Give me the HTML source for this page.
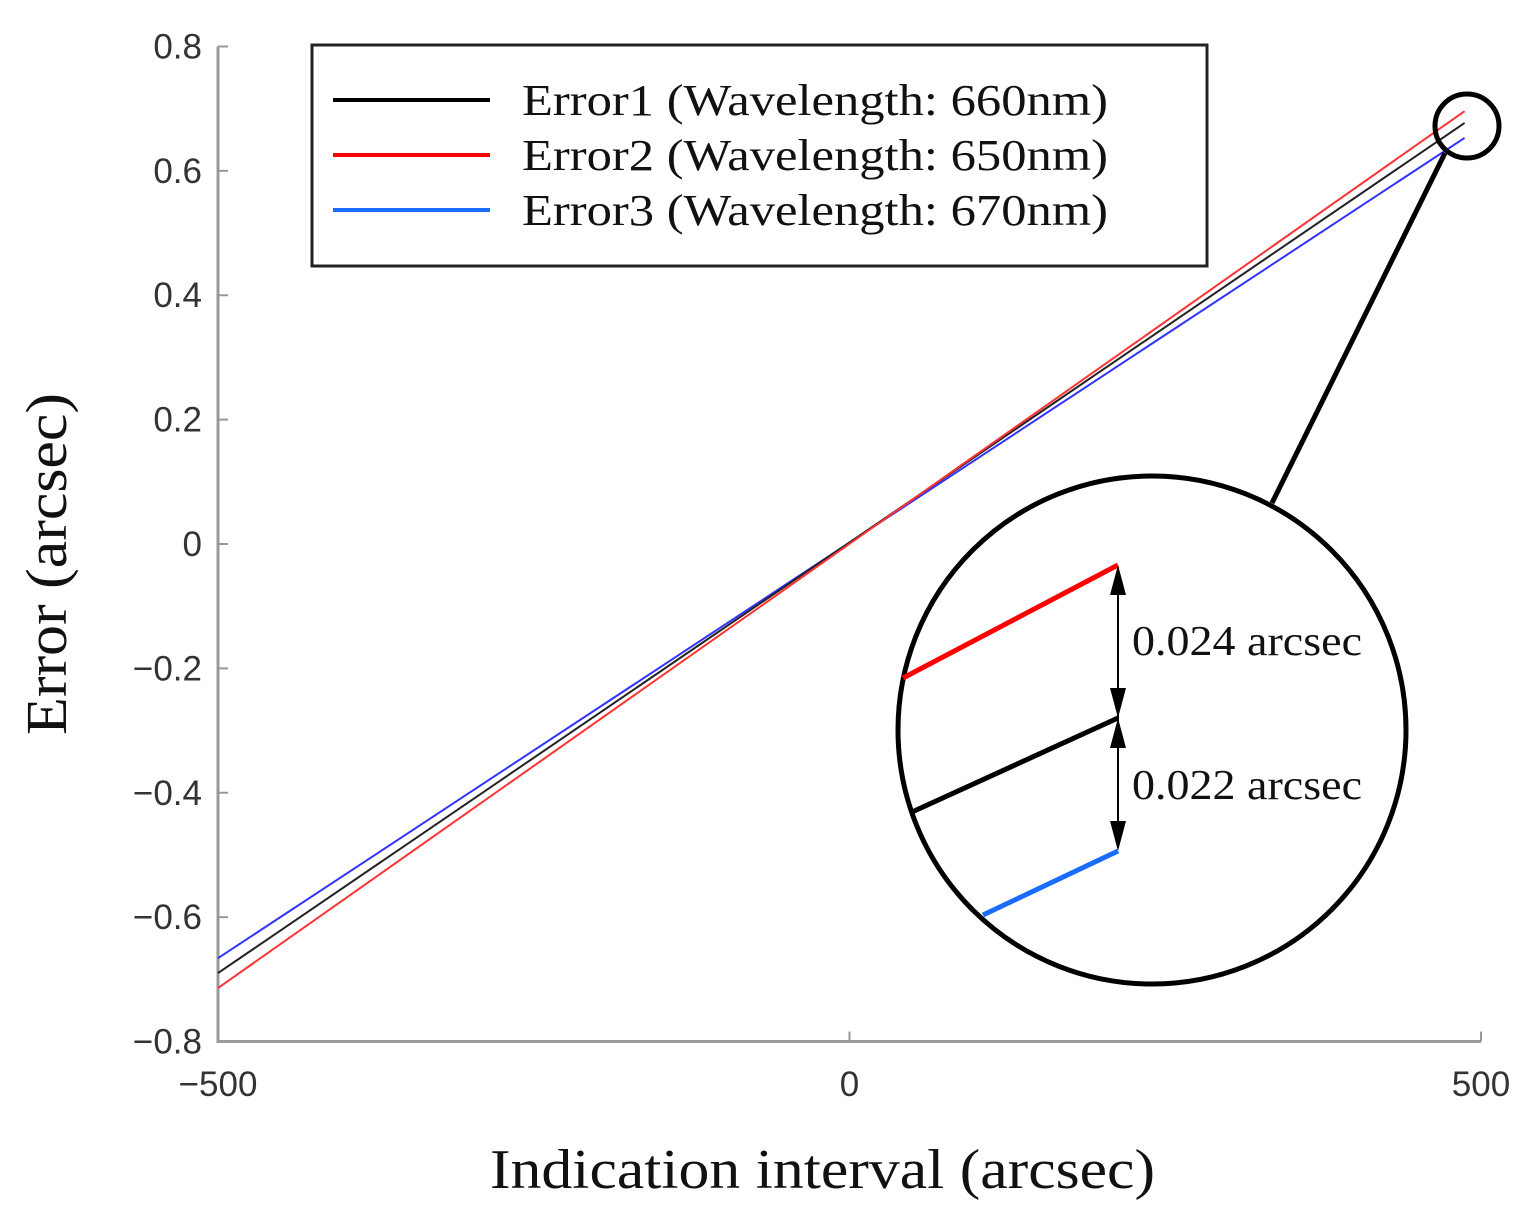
<!DOCTYPE html>
<html><head><meta charset="utf-8"><style>body{margin:0;background:#fff}svg{display:block}</style></head>
<body>
<svg id="chart" width="1536" height="1226" viewBox="0 0 1536 1226" xmlns="http://www.w3.org/2000/svg">
<g id="axes"></g>
<g id="series"></g>
<g>
<rect x="312" y="45" width="895" height="221" fill="#fff" stroke="#222" stroke-width="3"/>
<line x1="333" y1="100" x2="490" y2="100" stroke="#000" stroke-width="4"/>
<line x1="333" y1="155" x2="490" y2="155" stroke="#f00" stroke-width="4"/>
<line x1="333" y1="210" x2="490" y2="210" stroke="#1a6cff" stroke-width="4"/>
<g font-family="Liberation Serif, serif" font-size="44" fill="#111">
<text x="522" y="115" textLength="586" lengthAdjust="spacingAndGlyphs">Error1 (Wavelength: 660nm)</text>
<text x="522" y="170" textLength="586" lengthAdjust="spacingAndGlyphs">Error2 (Wavelength: 650nm)</text>
<text x="522" y="225" textLength="586" lengthAdjust="spacingAndGlyphs">Error3 (Wavelength: 670nm)</text>
</g></g>
<g fill="none">
<circle cx="1467" cy="126" r="32" stroke="#000" stroke-width="5"/>
<line x1="1445" y1="153" x2="1272" y2="503" stroke="#000" stroke-width="5"/>
<circle cx="1152" cy="730" r="254" stroke="#000" stroke-width="5" fill="#fff"/>
<line x1="903" y1="678" x2="1118" y2="565" stroke="#f00" stroke-width="5"/>
<line x1="912" y1="812" x2="1118" y2="718" stroke="#000" stroke-width="5"/>
<line x1="983" y1="915" x2="1118" y2="851" stroke="#1a6cff" stroke-width="5"/>
<line x1="1118" y1="570" x2="1118" y2="846" stroke="#000" stroke-width="2"/>
<g fill="#000">
<polygon points="1118,565 1110,595 1126,595"/><polygon points="1118,718 1110,688 1126,688"/>
<polygon points="1118,718 1110,748 1126,748"/><polygon points="1118,851 1110,821 1126,821"/>
</g>
<g font-family="Liberation Serif, serif" font-size="42" fill="#111" stroke="none">
<text x="1132" y="655" textLength="230" lengthAdjust="spacingAndGlyphs">0.024 arcsec</text>
<text x="1132" y="799" textLength="230" lengthAdjust="spacingAndGlyphs">0.022 arcsec</text>
</g></g>
<text x="490" y="1188" textLength="665" lengthAdjust="spacingAndGlyphs" font-family="Liberation Serif, serif" font-size="56" fill="#111">Indication interval (arcsec)</text>
<text transform="translate(66,735) rotate(-90)" textLength="342" lengthAdjust="spacingAndGlyphs" font-family="Liberation Serif, serif" font-size="58" fill="#111">Error (arcsec)</text>
</svg>
<script>
const xTicks=[-500,0,500];
const yTicks=[0.8,0.6,0.4,0.2,0,-0.2,-0.4,-0.6,-0.8];
const yTickLabels=["0.8","0.6","0.4","0.2","0","\u22120.2","\u22120.4","\u22120.6","\u22120.8"];
const seriesX=[-500,487];
const error1=[-0.690,0.677];
const error2=[-0.714,0.696];
const error3=[-0.666,0.653];
const NS="http://www.w3.org/2000/svg";
const X=v=>218+(v+500)/1000*1263;
const Y=v=>544-v*621.9;
const axes=document.getElementById('axes'),ser=document.getElementById('series');
function mk(tag,at,p){const e=document.createElementNS(NS,tag);for(const k in at)e.setAttribute(k,at[k]);p.appendChild(e);return e;}
let a=mk('path',{d:`M${X(-500)},${Y(0.8)}V${Y(-0.8)}H${X(500)}`,fill:'none',stroke:'#999',"stroke-width":3},axes);


yTicks.forEach((v,i)=>{
 const t=mk('line',{x1:X(-500),x2:X(-500)+10,y1:Y(v),y2:Y(v),stroke:'#999',"stroke-width":2},axes);
 
 
 const l=mk('text',{x:202,y:Y(v)+12,"text-anchor":"end","font-family":"Liberation Sans, sans-serif","font-size":35,fill:'#333'},axes);
 l.textContent=yTickLabels[i];
 
 
});
xTicks.forEach(v=>{
 const t=mk('line',{x1:X(v),x2:X(v),y1:Y(-0.8),y2:Y(-0.8)-10,stroke:'#999',"stroke-width":2},axes);
 
 
 const l=mk('text',{x:X(v),y:1096,"text-anchor":"middle","font-family":"Liberation Sans, sans-serif","font-size":35,fill:'#333'},axes);
 l.textContent=v<0?'\u2212'+Math.abs(v):String(v);
 
 
});
[[error3,'#3333ff','line-error3'],[error1,'#222','line-error1'],[error2,'#ff3333','line-error2']].forEach(([d,c,n])=>{
 const p=mk('polyline',{points:seriesX.map((x,i)=>X(x)+','+Y(d[i])).join(' '),fill:'none',stroke:c,"stroke-width":2},ser);
 
 
});
</script>
</body></html>
